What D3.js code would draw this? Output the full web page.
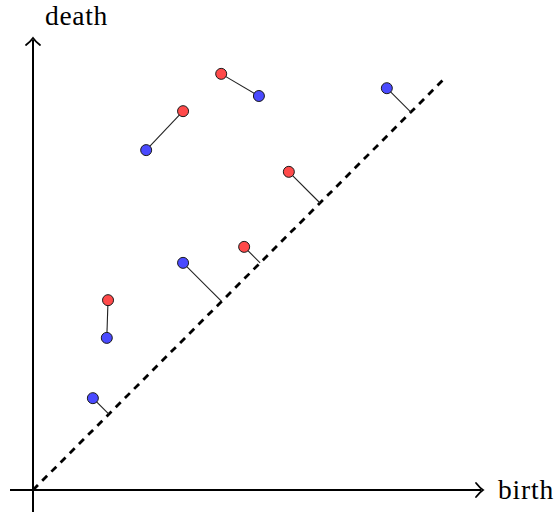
<!DOCTYPE html>
<html>
<head>
<meta charset="utf-8">
<script src="https://cdn.jsdelivr.net/npm/d3@7"></script>
<style>
  html, body { margin: 0; padding: 0; background: #fff; }
  svg { display: block; }
  text { font-family: "Liberation Serif", "DejaVu Serif", serif; }
</style>
</head>
<body>
<script>
// Persistence diagram: births on x, deaths on y.
const redBirth  = [1.83, 3.66, 4.59, 5.15, 6.24];
const redDeath  = [4.63, 9.24, 10.15, 5.93, 7.76];
const blueBirth = [1.80, 2.76, 5.51, 3.66, 1.46, 8.63];
const blueDeath = [3.71, 8.29, 9.61, 5.54, 2.24, 9.80];
// Pairs of matched points (red index, blue index)
const matchRed  = [0, 1, 2];
const matchBlue = [0, 1, 2];
// Unmatched points are sent to the diagonal
const toDiagRed  = [3, 4];
const toDiagBlue = [3, 4, 5];
const diagMax = 10.05;
const axisLabels = ["birth", "death"];

const W = 555, H = 513;
const svg = d3.select("body").append("svg").attr("width", W).attr("height", H);

const x = d3.scaleLinear().domain([0, 10]).range([33, 443]);
const y = d3.scaleLinear().domain([0, 10]).range([490, 80]);

// Axes with arrow heads
const g = svg.append("g");
g.append("line").attr("x1", 10).attr("y1", y(0)).attr("x2", 481).attr("y2", y(0))
  .attr("stroke", "#000").attr("stroke-width", 2);
g.append("line").attr("x1", x(0)).attr("y1", 512).attr("x2", x(0)).attr("y2", 40)
  .attr("stroke", "#000").attr("stroke-width", 2);
// x arrow head
g.append("path")
  .attr("d", `M ${476} ${y(0) - 7} Q ${480} ${y(0) - 2} ${483} ${y(0)} Q ${480} ${y(0) + 2} ${476} ${y(0) + 7}`)
  .attr("fill", "none").attr("stroke", "#000").attr("stroke-width", 1.8).attr("stroke-linecap", "round");
// y arrow head
g.append("path")
  .attr("d", `M ${x(0) - 7} ${45} Q ${x(0) - 2} ${41} ${x(0)} ${38} Q ${x(0) + 2} ${41} ${x(0) + 7} ${45}`)
  .attr("fill", "none").attr("stroke", "#000").attr("stroke-width", 1.8).attr("stroke-linecap", "round");

g.append("text").attr("x", 498).attr("y", 499).attr("font-size", 27.5)
  .attr("letter-spacing", 0.8).text(axisLabels[0]);
g.append("text").attr("x", 45).attr("y", 25).attr("font-size", 27.5)
  .attr("letter-spacing", 0.7).text(axisLabels[1]);

// Diagonal
svg.append("line")
  .attr("x1", x(0)).attr("y1", y(0)).attr("x2", x(diagMax)).attr("y2", y(diagMax))
  .attr("stroke", "#000").attr("stroke-width", 2.8).attr("stroke-dasharray", "7,6");

const links = svg.append("g").attr("stroke", "#222").attr("stroke-width", 1.1);
matchRed.forEach((ri, k) => {
  const bi = matchBlue[k];
  links.append("line")
    .attr("x1", x(redBirth[ri])).attr("y1", y(redDeath[ri]))
    .attr("x2", x(blueBirth[bi])).attr("y2", y(blueDeath[bi]));
});
function diagLink(b, d) {
  const m = (b + d) / 2;
  links.append("line")
    .attr("x1", x(b)).attr("y1", y(d)).attr("x2", x(m)).attr("y2", y(m));
}
toDiagRed.forEach(i => diagLink(redBirth[i], redDeath[i]));
toDiagBlue.forEach(i => diagLink(blueBirth[i], blueDeath[i]));

// Points
const red = redBirth.map((b, i) => ({ b, d: redDeath[i] }));
const blue = blueBirth.map((b, i) => ({ b, d: blueDeath[i] }));
svg.append("g").selectAll("circle").data(red).join("circle")
  .attr("cx", p => x(p.b)).attr("cy", p => y(p.d)).attr("r", 5.5)
  .attr("fill", "#ff4a4a").attr("stroke", "#1a1a1a").attr("stroke-width", 1);
svg.append("g").selectAll("circle").data(blue).join("circle")
  .attr("cx", p => x(p.b)).attr("cy", p => y(p.d)).attr("r", 5.5)
  .attr("fill", "#4a4aff").attr("stroke", "#1a1a1a").attr("stroke-width", 1);
</script>
</body>
</html>
